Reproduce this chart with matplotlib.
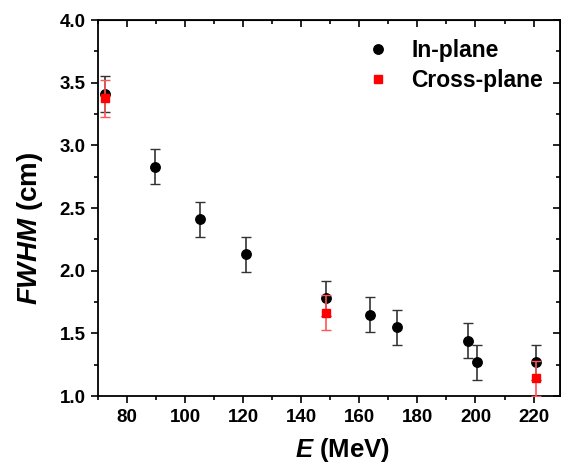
import matplotlib
matplotlib.use("Agg")
import matplotlib.pyplot as plt
from matplotlib.ticker import MultipleLocator
from matplotlib.lines import Line2D

plt.rcParams['font.family'] = ['Liberation Sans', 'DejaVu Sans']
plt.rcParams['font.weight'] = 'bold'
plt.rcParams['mathtext.fontset'] = 'custom'
plt.rcParams['mathtext.it'] = 'Liberation Sans:bold:italic'
plt.rcParams['mathtext.rm'] = 'Liberation Sans:bold'
plt.rcParams['mathtext.bf'] = 'Liberation Sans:bold'

# In-plane data
e_in = [72.5, 89.5, 105, 121, 148.5, 163.5, 173, 197.5, 200.5, 221]
fwhm_in = [3.41, 2.83, 2.41, 2.13, 1.78, 1.65, 1.55, 1.44, 1.27, 1.27]
err_in = [0.145, 0.14, 0.14, 0.14, 0.14, 0.14, 0.14, 0.14, 0.14, 0.14]

# Cross-plane data
e_cross = [72.5, 148.5, 221]
fwhm_cross = [3.375, 1.665, 1.14]
err_cross = [0.145, 0.14, 0.14]

x_ticks = [80, 100, 120, 140, 160, 180, 200, 220]
y_ticks = [1.0, 1.5, 2.0, 2.5, 3.0, 3.5, 4.0]

fig = plt.figure(figsize=(5.61, 4.72), dpi=100)
ax = fig.add_axes([0.1747, 0.161, 0.823, 0.7966])

ax.errorbar(e_in, fwhm_in, yerr=err_in, fmt='o', color='black', ms=6.8,
            ecolor='#333333', elinewidth=1.2, capsize=3.5, capthick=1.0,
            zorder=3)
ax.errorbar(e_cross, fwhm_cross, yerr=err_cross, fmt='s', color='red', ms=5.8,
            ecolor='#ff5555', elinewidth=1.2, capsize=3.5, capthick=1.0,
            zorder=4)

ax.set_xlim(70, 229)
ax.set_ylim(1.0, 4.0)
ax.set_xticks(x_ticks)
ax.set_xticklabels([str(v) for v in x_ticks], fontweight='bold', fontsize=13.5)
ax.set_yticks(y_ticks)
ax.set_yticklabels([f"{v:.1f}" for v in y_ticks], fontweight='bold', fontsize=13.5)
ax.xaxis.set_minor_locator(MultipleLocator(10))
ax.yaxis.set_minor_locator(MultipleLocator(0.25))

for s in ax.spines.values():
    s.set_linewidth(1.3)

ax.tick_params(which='both', direction='out', width=1.2, top=False, right=False)
ax.tick_params(which='major', length=5, pad=4)
ax.tick_params(which='minor', length=3)

# mirrored inward ticks on top and right
axt = ax.secondary_xaxis('top')
axt.set_xticks(x_ticks)
axt.xaxis.set_minor_locator(MultipleLocator(10))
axt.tick_params(which='both', direction='in', width=1.2, labeltop=False)
axt.tick_params(which='major', length=5)
axt.tick_params(which='minor', length=3)
axr = ax.secondary_yaxis('right')
axr.set_yticks(y_ticks)
axr.yaxis.set_minor_locator(MultipleLocator(0.25))
axr.tick_params(which='both', direction='in', width=1.2, labelright=False)
axr.tick_params(which='major', length=5)
axr.tick_params(which='minor', length=3)

ax.set_xlabel(r'$E$ (MeV)', fontsize=18.5, fontweight='bold', va='center')
ax.set_ylabel(r'$FWHM$ (cm)', fontsize=20, fontweight='bold', va='center')
ax.xaxis.set_label_coords(0.53, -0.144)
ax.yaxis.set_label_coords(-0.147, 0.445)

handles = [Line2D([], [], ls='none', marker='o', color='black', ms=6.8),
           Line2D([], [], ls='none', marker='s', color='red', ms=5.8)]
ax.legend(handles, ['In-plane', 'Cross-plane'], loc='upper right',
          bbox_to_anchor=(1.008, 1.004), frameon=False,
          prop={'size': 16.5, 'weight': 'bold'}, handletextpad=0.7,
          labelspacing=0.3, handlelength=1.5)

fig.savefig('out.png', dpi=100)
